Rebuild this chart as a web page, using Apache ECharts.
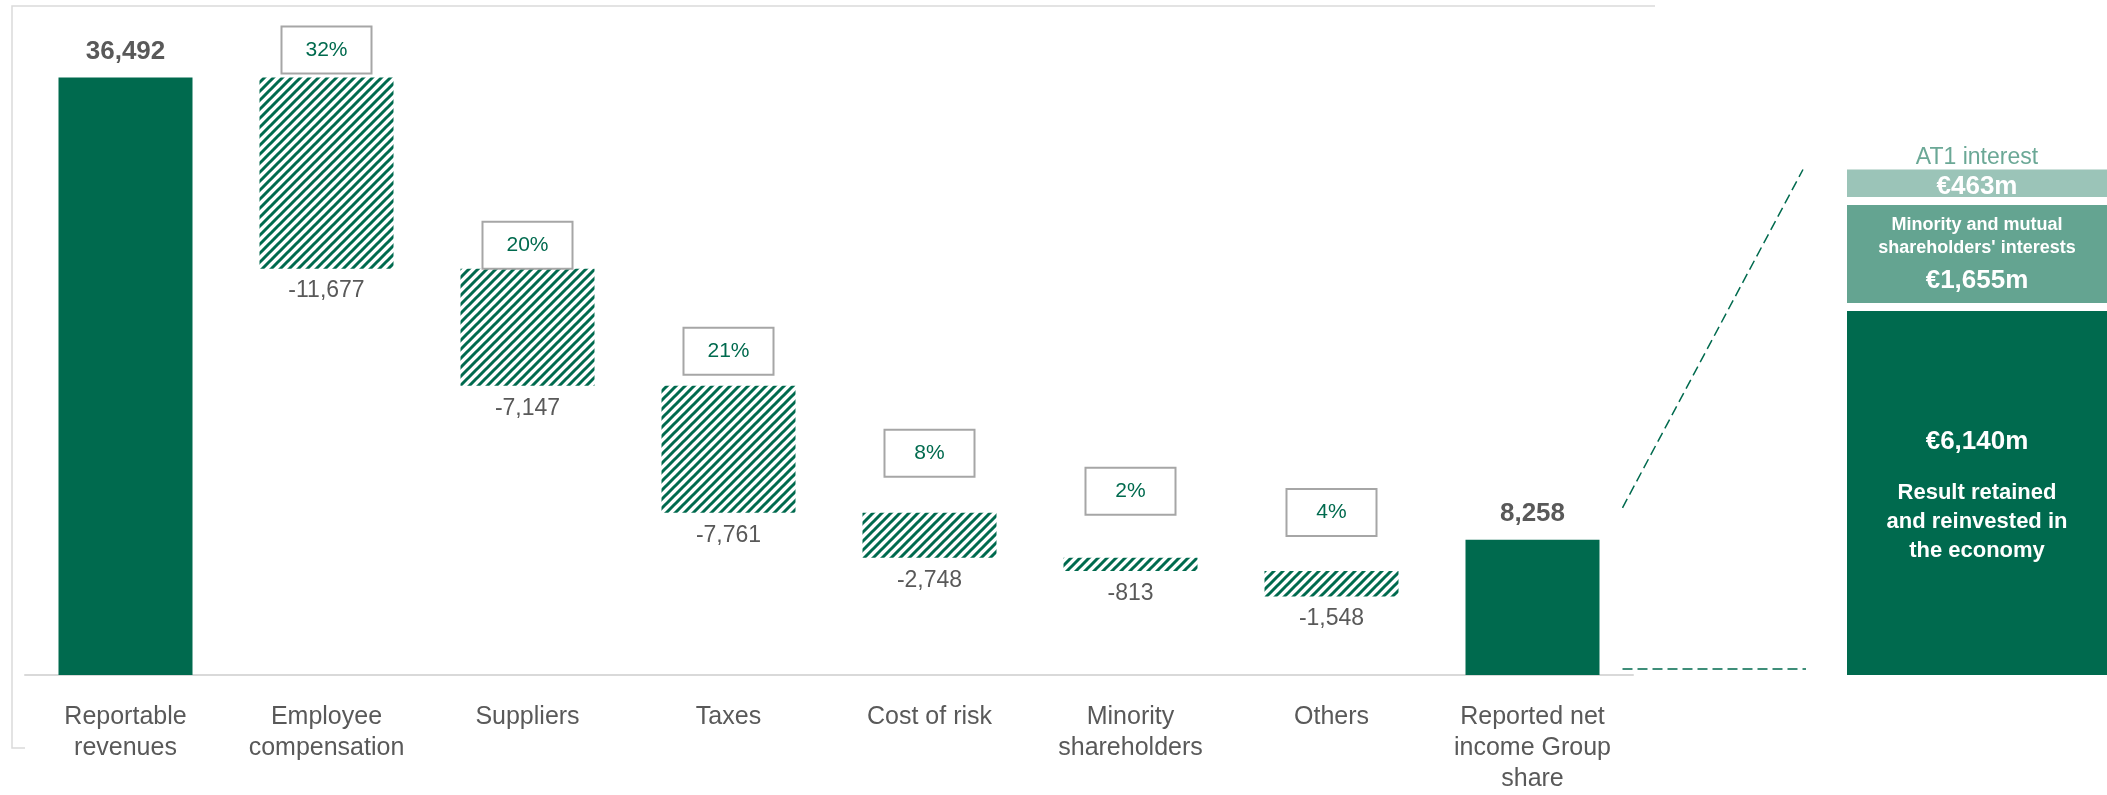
<!DOCTYPE html>
<html>
<head>
<meta charset="utf-8">
<script src="https://cdn.jsdelivr.net/npm/echarts@6/dist/echarts.min.js"></script>
<style>
  html, body { margin: 0; padding: 0; background: #fff; }
  #main { width: 2107px; height: 795px; }
</style>
</head>
<body>
<div id="main"></div>
<script>
// waterfall data
var categories = ['Reportable\nrevenues', 'Employee\ncompensation', 'Suppliers', 'Taxes',
  'Cost of risk', 'Minority\nshareholders', 'Others', 'Reported net\nincome Group\nshare'];
var totals = [36492, '-', '-', '-', '-', '-', '-', 8258];
var costs = ['-', -11677, -7147, -7761, -2748, -813, -1548, '-'];
var shares = ['', '32%', '20%', '21%', '8%', '2%', '4%', ''];

// breakdown of the net income (bottom to top)
var splitNames = ['Result retained\nand reinvested in\nthe economy', "Minority and mutual\nshareholders' interests", 'AT1 interest'];
var splitValues = [6140, 1655, 463];

var GREEN = '#006A4E';
var GREY = '#595959';
var FONT = '"Liberation Sans", Arial, sans-serif';

function fmt(v) { return v.toLocaleString('en-US'); }

// hatched fill for the cost bars
function stripes() {
  var s = 9;
  var c = document.createElement('canvas');
  c.width = s; c.height = s;
  var g = c.getContext('2d');
  g.fillStyle = '#fff';
  g.fillRect(0, 0, s, s);
  g.strokeStyle = GREEN;
  g.lineWidth = 3;
  g.beginPath();
  g.moveTo(-1, s + 1); g.lineTo(s + 1, -1);
  g.moveTo(-2, 2); g.lineTo(2, -2);
  g.moveTo(s - 2, s + 2); g.lineTo(s + 2, s - 2);
  g.stroke();
  return c;
}

// invisible base + visible drop for each step
var base = [], drop = [];
var level = 0;
for (var i = 0; i < categories.length; i++) {
  if (totals[i] !== '-') {
    level = totals[i];
    base.push(0);
    drop.push('-');
  } else {
    level += costs[i];
    base.push(level);
    drop.push(-costs[i]);
  }
}
var boxGap = [0, 5, 1, 12, 37, 44, 36, 0];

var splitData = [];
var cum = 0;
splitValues.forEach(function (v) { splitData.push([0, cum, cum + v]); cum += v; });
var splitTotal = cum;
var splitColors = [GREEN, '#64A491', '#9BC4B8'];
var SPLIT_GAP = 8;

var splitText = [
  {
    text: '{big|€' + fmt(splitValues[0]) + 'm}\n{gap| }\n' +
      splitNames[0].split('\n').map(function (s) { return '{txt|' + s + '}'; }).join('\n'),
    rich: {
      big: { fill: '#fff', fontSize: 26, fontWeight: 'bold', lineHeight: 30, fontFamily: FONT },
      gap: { fontSize: 10, lineHeight: 21 },
      txt: { fill: '#fff', fontSize: 22, fontWeight: 'bold', lineHeight: 29, fontFamily: FONT }
    },
    offset: [0, 3]
  },
  {
    text: splitNames[1].split('\n').map(function (s) { return '{s|' + s + '}'; }).join('\n') +
      '\n{b|€' + fmt(splitValues[1]) + 'm}',
    rich: {
      s: { fill: '#fff', fontSize: 18, fontWeight: 'bold', lineHeight: 23, fontFamily: FONT },
      b: { fill: '#fff', fontSize: 26, fontWeight: 'bold', lineHeight: 42, fontFamily: FONT }
    },
    offset: [0, 4]
  },
  {
    text: '{t|' + splitNames[2] + '}\n{b|€' + fmt(splitValues[2]) + 'm}',
    rich: {
      t: { fill: '#6BA896', fontSize: 23, lineHeight: 30, fontFamily: FONT },
      b: { fill: '#fff', fontSize: 26, fontWeight: 'bold', lineHeight: 30, fontFamily: FONT }
    },
    offset: [0, -11]
  }
];

var chart = echarts.init(document.getElementById('main'));

var option = {
  animation: false,
  textStyle: { fontFamily: FONT },
  grid: [
    { left: 25, width: 1608, top: 20, height: 659 },
    { left: 1847, right: 0, top: 141.5, height: 533.5 }
  ],
  xAxis: [
    {
      type: 'category', gridIndex: 0, data: categories,
      axisLine: { lineStyle: { color: '#D9D9D9', width: 2 } },
      axisTick: { show: false },
      axisLabel: { interval: 0, color: GREY, fontSize: 25, lineHeight: 31, margin: 27, fontFamily: FONT }
    },
    { type: 'category', gridIndex: 1, data: ['split'], show: false }
  ],
  yAxis: [
    { type: 'value', gridIndex: 0, min: 0, max: 40000, show: false },
    { type: 'value', gridIndex: 1, min: 0, max: 9000, show: false }
  ],
  series: [
    {
      name: 'base', type: 'bar', stack: 'w', barWidth: 134, silent: true,
      data: base,
      itemStyle: { color: 'rgba(0,0,0,0)' },
      label: {
        show: true, position: 'insideTop', distance: 11,
        color: GREY, fontSize: 23, fontFamily: FONT,
        formatter: function (p) { return costs[p.dataIndex] === '-' ? '' : fmt(costs[p.dataIndex]); }
      }
    },
    {
      name: 'costs', type: 'bar', stack: 'w', barWidth: 134,
      data: drop.map(function (v, k) {
        return v === '-' ? '-' : { value: v, label: { distance: boxGap[k] } };
      }),
      itemStyle: { color: { image: stripes(), repeat: 'repeat' } },
      label: {
        show: true, position: 'top',
        color: GREEN, fontSize: 21, fontFamily: FONT,
        backgroundColor: '#fff', borderColor: '#A6A6A6', borderWidth: 2,
        width: 88, height: 45, lineHeight: 45, align: 'center', padding: 0,
        formatter: function (p) { return shares[p.dataIndex]; }
      }
    },
    {
      name: 'totals', type: 'bar', stack: 'w', barWidth: 134,
      data: totals,
      itemStyle: { color: GREEN },
      label: {
        show: true, position: 'top', distance: 13,
        color: GREY, fontSize: 26, fontWeight: 'bold', fontFamily: FONT,
        formatter: function (p) { return fmt(p.value); }
      }
    },
    {
      name: 'split', type: 'custom', xAxisIndex: 1, yAxisIndex: 1,
      data: splitData,
      renderItem: function (params, api) {
        var k = params.dataIndex;
        var lo = api.coord([0, api.value(1)]);
        var hi = api.coord([0, api.value(2)]);
        var w = api.size([1, 0])[0];
        var shift = k * SPLIT_GAP;
        var st = splitText[k];
        return {
          type: 'rect',
          shape: { x: lo[0] - w / 2, y: hi[1] - shift, width: w, height: lo[1] - hi[1] },
          style: { fill: splitColors[k] },
          textContent: { style: { text: st.text, rich: st.rich, align: 'center' } },
          textConfig: { position: 'inside', offset: st.offset }
        };
      }
    }
  ]
};

chart.setOption(option);

// connectors and frame
var top8 = chart.convertToPixel({ xAxisIndex: 0, yAxisIndex: 0 }, [7, totals[7]]);
var axisY = chart.convertToPixel({ xAxisIndex: 0, yAxisIndex: 0 }, [7, 0])[1];
var blockTop = chart.convertToPixel({ xAxisIndex: 1, yAxisIndex: 1 }, [0, splitTotal])[1] - SPLIT_GAP * (splitValues.length - 1);
var blockLeft = 1847;
var dash = { stroke: GREEN, lineWidth: 1.5, lineDash: [10, 5] };

chart.setOption({
  graphic: [
    {
      type: 'polyline', silent: true,
      shape: { points: [[25, 748], [12, 748], [12, 6], [1655, 6]] },
      style: { stroke: '#DADADA', lineWidth: 1.5, fill: null }
    },
    {
      type: 'line', silent: true,
      shape: { x1: top8[0] + 90, y1: top8[1] - 32, x2: blockLeft - 44, y2: blockTop },
      style: dash
    },
    {
      type: 'line', silent: true,
      shape: { x1: top8[0] + 90, y1: axisY - 6, x2: blockLeft - 41, y2: axisY - 6 },
      style: dash
    }
  ]
});
</script>
</body>
</html>
